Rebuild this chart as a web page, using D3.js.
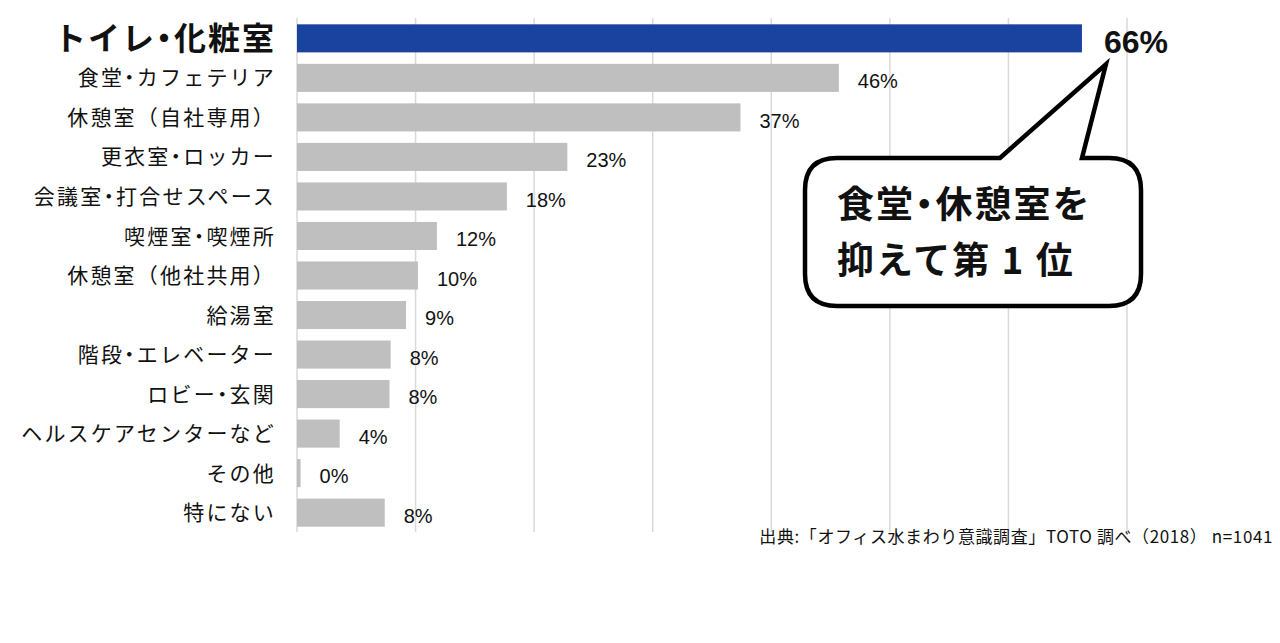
<!DOCTYPE html>
<html>
<head>
<meta charset="utf-8">
<script src="https://d3js.org/d3.v7.min.js"></script>
<style>
  body { margin: 0; background: #fff; }
  svg { display: block; }
</style>
</head>
<body>
<div id="chart"></div>
<script>
// Data
const categories = [
  "トイレ・化粧室", "食堂・カフェテリア", "休憩室（自社専用）", "更衣室・ロッカー",
  "会議室・打合せスペース", "喫煙室・喫煙所", "休憩室（他社共用）", "給湯室",
  "階段・エレベーター", "ロビー・玄関", "ヘルスケアセンターなど", "その他", "特にない"
];
const values = [66.2, 45.7, 37.4, 22.8, 17.7, 11.8, 10.2, 9.2, 7.9, 7.8, 3.6, 0.3, 7.4];
const valueLabels = ["66%", "46%", "37%", "23%", "18%", "12%", "10%", "9%", "8%", "8%", "4%", "0%", "8%"];
const xTicks = [0, 10, 20, 30, 40, 50, 60, 70];
const calloutLines = ["食堂・休憩室を", "抑えて第 1 位"];
const sourceNote = "出典:「オフィス水まわり意識調査」TOTO 調べ（2018） n=1041";

const width = 1280, height = 643;
const jp = "'Noto Sans CJK JP', 'Noto Sans', sans-serif";
const narrow = "'Liberation Sans Narrow', 'Liberation Sans', Arial, sans-serif";

const svg = d3.select("#chart").append("svg")
  .attr("width", width)
  .attr("height", height);

const x = d3.scaleLinear().domain([0, 70]).range([297, 1127]);
const y = d3.scaleBand().domain(categories).range([18, 533]).paddingInner(0.29).paddingOuter(0.16);

// the middle dot is drawn half width, as in the original
function dotText(sel) {
  sel.each(function(d) {
    const t = d3.select(this);
    d.split("・").forEach((part, k) => {
      if (k > 0) t.append("tspan").style("font-feature-settings", "'halt'").text("・");
      t.append("tspan").text(part);
    });
  });
}

// grid lines
svg.append("g").selectAll("line")
  .data(xTicks)
  .enter().append("line")
  .attr("x1", d => x(d)).attr("x2", d => x(d))
  .attr("y1", 18).attr("y2", 532)
  .style("stroke", "#d9d9d9")
  .style("stroke-width", 1.5);

// bars
svg.append("g").selectAll("rect")
  .data(values)
  .enter().append("rect")
  .attr("x", x(0))
  .attr("y", (d, i) => y(categories[i]))
  .attr("width", d => x(d) - x(0))
  .attr("height", y.bandwidth())
  .style("fill", (d, i) => i === 0 ? "#1a43a0" : "#bfbfbf");

// category labels
svg.append("g").selectAll("text")
  .data(categories)
  .enter().append("text")
  .attr("x", 276)
  .attr("y", d => y(d) + y.bandwidth() / 2)
  .attr("dy", "0.36em")
  .attr("text-anchor", "end")
  .style("font-family", jp)
  .style("font-size", (d, i) => i === 0 ? "32px" : "21px")
  .style("letter-spacing", (d, i) => i === 0 ? "2px" : "2.2px")
  .style("font-weight", (d, i) => i === 0 ? 700 : 400)
  .style("fill", "#111")
  .call(dotText);

// value labels
svg.append("g").selectAll("text")
  .data(values)
  .enter().append("text")
  .attr("x", (d, i) => x(d) + (i === 0 ? 22 : 19))
  .attr("y", (d, i) => y(categories[i]) + y.bandwidth() / 2 + 3)
  .attr("dy", "0.36em")
  .style("font-family", narrow)
  .style("font-size", (d, i) => i === 0 ? "32px" : "20px")
  .style("font-weight", (d, i) => i === 0 ? 700 : 400)
  .style("fill", "#111")
  .text((d, i) => valueLabels[i]);

// callout bubble
const bx0 = 805, bx1 = 1141, by0 = 158, by1 = 306, r = 32;
const tip = [x(values[0]) + 24, y(categories[0]) + y.bandwidth() + 12];
const tailL = 1000, tailR = 1082;
const p = d3.path();
p.moveTo(bx0 + r, by0);
p.lineTo(tailL, by0);
p.lineTo(tip[0], tip[1]);
p.lineTo(tailR, by0);
p.lineTo(bx1 - r, by0);
p.quadraticCurveTo(bx1, by0, bx1, by0 + r);
p.lineTo(bx1, by1 - r);
p.quadraticCurveTo(bx1, by1, bx1 - r, by1);
p.lineTo(bx0 + r, by1);
p.quadraticCurveTo(bx0, by1, bx0, by1 - r);
p.lineTo(bx0, by0 + r);
p.quadraticCurveTo(bx0, by0, bx0 + r, by0);
p.closePath();

svg.append("path")
  .attr("d", p.toString())
  .style("fill", "#fff")
  .style("stroke", "#000")
  .style("stroke-width", 4.5)
  .style("stroke-linejoin", "miter");

svg.append("g").selectAll("text")
  .data(calloutLines)
  .enter().append("text")
  .attr("x", 837)
  .attr("y", (d, i) => 218 + i * 56)
  .style("font-family", jp)
  .style("font-size", "37px")
  .style("letter-spacing", "2px")
  .style("font-weight", 700)
  .style("fill", "#111")
  .call(dotText);

// source note
svg.append("text")
  .attr("x", 1273)
  .attr("y", 543)
  .attr("text-anchor", "end")
  .style("font-family", jp)
  .style("font-size", "17px")
  .style("letter-spacing", "0.6px")
  .style("fill", "#111")
  .text(sourceNote);
</script>
</body>
</html>
